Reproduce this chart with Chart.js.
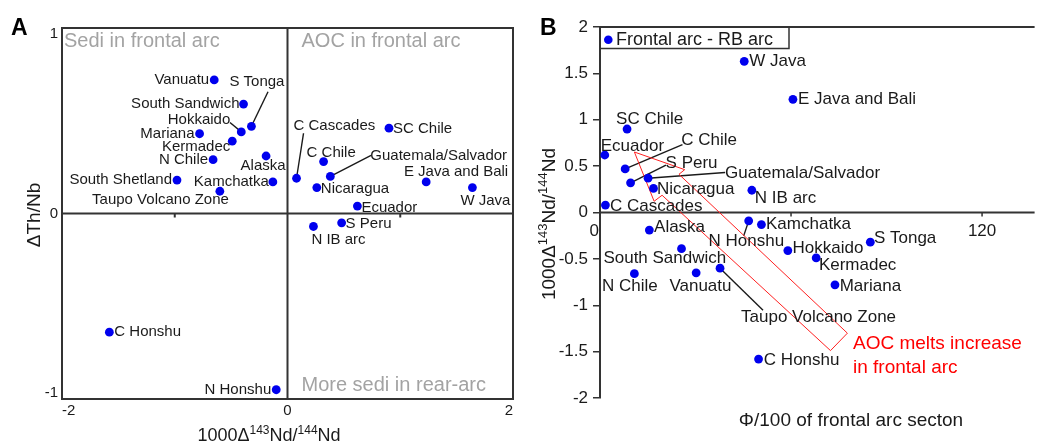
<!DOCTYPE html>
<html>
<head>
<meta charset="utf-8">
<script src="https://cdn.jsdelivr.net/npm/chart.js@4.4.0/dist/chart.umd.min.js"></script>
<style>
  body { margin: 0; background: #fff; width: 1039px; height: 443px; overflow: hidden; position: relative; }
  canvas { position: absolute; top: 0; }
  #chartA { left: 0; }
  #chartB { left: 520px; }
</style>
</head>
<body>
<canvas id="chartA" width="520" height="443"></canvas>
<canvas id="chartB" width="519" height="443"></canvas>
<script>
const FONT = '"Liberation Sans", Arial, sans-serif';
const BLUE = '#0000ee';
const INK = '#1a1a1a';
const FRAME = '#333';

// panel A : 1000*dNd vs dTh/Nb
const regionsA = ['Vanuatu', 'South Sandwich', 'S Tonga', 'Hokkaido', 'Mariana', 'Kermadec', 'N Chile',
  'Alaska', 'South Shetland', 'Kamchatka', 'Taupo Volcano Zone', 'C Cascades', 'SC Chile', 'C Chile',
  'Guatemala/Salvador', 'Nicaragua', 'E Java and Bali', 'W Java', 'Ecuador', 'S Peru', 'N IB arc',
  'C Honshu', 'N Honshu'];
const ndA = [-0.65, -0.39, -0.32, -0.41, -0.78, -0.49, -0.66, -0.19, -0.98, -0.13, -0.60, 0.08, 0.90, 0.32,
  0.38, 0.26, 1.23, 1.64, 0.62, 0.48, 0.23, -1.58, -0.10];
const thNbA = [0.72, 0.59, 0.47, 0.44, 0.43, 0.39, 0.29, 0.31, 0.18, 0.17, 0.12, 0.19, 0.46, 0.28,
  0.20, 0.14, 0.17, 0.14, 0.04, -0.05, -0.07, -0.64, -0.95];
const quadrantText = ['Sedi in frontal arc', 'AOC in frontal arc', 'More sedi in rear-arc'];

// panel B : phi/100 vs 1000*dNd
const regionsB = ['W Java', 'E Java and Bali', 'SC Chile', 'Ecuador', 'C Chile', 'S Peru', 'Guatemala/Salvador',
  'Nicaragua', 'N IB arc', 'C Cascades', 'N Honshu', 'Kamchatka', 'Alaska', 'Hokkaido', 'S Tonga', 'Kermadec',
  'South Sandwich', 'N Chile', 'Vanuatu', 'Taupo Volcano Zone', 'Mariana', 'C Honshu'];
const phiB = [45.3, 60.6, 8.5, 1.5, 7.9, 9.6, 15.1, 16.8, 47.7, 1.7, 46.7, 50.7, 15.5, 59.0, 84.9, 67.9,
  25.6, 10.8, 30.2, 37.7, 73.8, 49.8];
const ndB = [1.63, 1.22, 0.90, 0.62, 0.47, 0.32, 0.37, 0.26, 0.24, 0.08, -0.09, -0.13, -0.19, -0.41, -0.32, -0.49,
  -0.39, -0.66, -0.65, -0.60, -0.78, -1.58];
const phiTickLabels = [0, 120];
const phiTickMarks = [60, 120];

// red arrow outline, in panel B units
const arrowPhi = [10.8, 26.6, 24.8, 77.7, 72.4, 19.5, 17.0, 10.8];
const arrowNd = [0.652, 0.462, 0.412, -1.301, -1.489, 0.186, 0.121, 0.652];

// label placement: [align, dx, dy, leaderDx, leaderDy]
const labelsA = {
  'Vanuatu': ['r', -5, 0], 'South Sandwich': ['r', -4, 0], 'S Tonga': ['l', -22, -44, 16.6, -34.6],
  'Hokkaido': ['r', -11, -12, -11.3, -9.3], 'Mariana': ['r', -5, 0], 'Kermadec': ['r', -2, 6],
  'N Chile': ['r', -5, 0], 'Alaska': ['c', -3, 10], 'South Shetland': ['r', -5, 0], 'Kamchatka': ['r', -4, 0],
  'Taupo Volcano Zone': ['r', 9, 9], 'C Cascades': ['l', -3, -52, 7, -45], 'SC Chile': ['l', 4, 1],
  'C Chile': ['l', -17, -9], 'Guatemala/Salvador': ['l', 40, -21, 40.7, -21], 'Nicaragua': ['l', 4, 1.5],
  'E Java and Bali': ['r', 82, -10], 'W Java': ['l', -12, 13], 'Ecuador': ['l', 4, 2], 'S Peru': ['l', 4, 1],
  'N IB arc': ['l', -2, 13], 'C Honshu': ['l', 5, 0], 'N Honshu': ['r', -5, 0.5]
};
const labelsB = {
  'W Java': ['l', 5, 0], 'E Java and Bali': ['l', 5, 0], 'SC Chile': ['l', -11, -10], 'Ecuador': ['l', -4, -9],
  'C Chile': ['l', 56, -29, 57.3, -24.3], 'S Peru': ['l', 35, -20, 35.4, -17.7],
  'Guatemala/Salvador': ['l', 77, -4.7, 77, -5.7], 'Nicaragua': ['l', 3.5, 1], 'N IB arc': ['l', 3, 8],
  'C Cascades': ['l', 4.5, 1], 'N Honshu': ['c', -2.4, 20.7, -5, 15], 'Kamchatka': ['l', 4.6, 0],
  'Alaska': ['l', 4.7, -3], 'Hokkaido': ['l', 4.7, -2], 'S Tonga': ['l', 3.6, -4.3], 'Kermadec': ['l', 2.7, 7.3],
  'South Sandwich': ['c', -16.7, 9.6], 'N Chile': ['c', -4.5, 12.7], 'Vanuatu': ['c', 4.3, 13.3],
  'Taupo Volcano Zone': ['l', 21, 49.6, 43, 42], 'Mariana': ['l', 4.7, 1], 'C Honshu': ['l', 5.3, 1.7]
};

function drawLeaders(chart, names, layout) {
  const ctx = chart.ctx;
  const pts = chart.getDatasetMeta(0).data;
  ctx.save();
  ctx.strokeStyle = INK;
  ctx.lineWidth = 1.4;
  names.forEach((n, i) => {
    const L = layout[n];
    if (!pts[i] || !L || L[3] === undefined) return;
    ctx.beginPath();
    ctx.moveTo(pts[i].x, pts[i].y);
    ctx.lineTo(pts[i].x + L[3], pts[i].y + L[4]);
    ctx.stroke();
  });
  ctx.restore();
}

function drawLabels(chart, names, layout, size) {
  const ctx = chart.ctx;
  const pts = chart.getDatasetMeta(0).data;
  ctx.save();
  ctx.font = size + 'px ' + FONT;
  ctx.fillStyle = INK;
  ctx.textBaseline = 'middle';
  names.forEach((n, i) => {
    const L = layout[n];
    if (!pts[i] || !L) return;
    ctx.textAlign = L[0] === 'l' ? 'left' : (L[0] === 'r' ? 'right' : 'center');
    ctx.fillText(n, pts[i].x + L[1], pts[i].y + L[2]);
  });
  ctx.restore();
}

// "1000Δ143Nd/144Nd" with raised isotope numbers, centred at (x, y)
function drawNdTitle(ctx, x, y, size, rotate) {
  const parts = [['1000Δ', 0], ['143', 1], ['Nd/', 0], ['144', 1], ['Nd', 0]];
  const small = Math.round(size * 0.68);
  let w = 0;
  parts.forEach(p => { ctx.font = (p[1] ? small : size) + 'px ' + FONT; w += ctx.measureText(p[0]).width; });
  ctx.save();
  ctx.translate(x, y);
  if (rotate) ctx.rotate(-Math.PI / 2);
  ctx.fillStyle = INK;
  ctx.textBaseline = 'alphabetic';
  ctx.textAlign = 'left';
  let cx = -w / 2;
  parts.forEach(p => {
    ctx.font = (p[1] ? small : size) + 'px ' + FONT;
    ctx.fillText(p[0], cx, size * 0.35 - (p[1] ? size * 0.38 : 0));
    cx += ctx.measureText(p[0]).width;
  });
  ctx.restore();
}

const panelA = {
  id: 'panelA',
  beforeDatasetsDraw(chart) {
    const { ctx, chartArea: a, scales: { x, y } } = chart;
    ctx.save();
    ctx.strokeStyle = FRAME;
    ctx.lineWidth = 2;
    ctx.strokeRect(a.left, a.top, a.right - a.left, a.bottom - a.top);
    const x0 = x.getPixelForValue(0), y0 = y.getPixelForValue(0);
    ctx.beginPath();
    ctx.moveTo(a.left, y0); ctx.lineTo(a.right, y0);
    ctx.moveTo(x0, a.top); ctx.lineTo(x0, a.bottom);
    [-1, 1].forEach(v => { const px = x.getPixelForValue(v); ctx.moveTo(px, y0); ctx.lineTo(px, y0 + 4); });
    ctx.stroke();
    ctx.fillStyle = '#a3a3a3';
    ctx.font = '20px ' + FONT;
    ctx.textBaseline = 'middle';
    ctx.textAlign = 'left';
    ctx.fillText(quadrantText[0], a.left + 2, a.top + 13);
    ctx.fillText(quadrantText[1], x0 + 14, a.top + 13);
    ctx.fillText(quadrantText[2], x0 + 14, a.bottom - 14);
    // y tick labels sit just inside the frame ends
    ctx.fillStyle = INK;
    ctx.font = '15px ' + FONT;
    ctx.textAlign = 'right';
    [1, 0, -1].forEach(v => {
      const py = y.getPixelForValue(v) + (v === 1 ? 6 : (v === -1 ? -6 : 0));
      ctx.fillText(String(v), a.left - 4, py);
    });
    ctx.restore();
    drawLeaders(chart, regionsA, labelsA);
  },
  afterDatasetsDraw(chart) {
    drawLabels(chart, regionsA, labelsA, 15);
    const ctx = chart.ctx;
    ctx.save();
    ctx.fillStyle = '#000';
    ctx.font = 'bold 23px ' + FONT;
    ctx.textBaseline = 'alphabetic';
    ctx.fillText('A', 11, 35);
    ctx.restore();
    drawNdTitle(ctx, 269, 435, 18, false);
    ctx.save();
    ctx.translate(35, 215);
    ctx.rotate(-Math.PI / 2);
    ctx.font = '19px ' + FONT;
    ctx.fillStyle = INK;
    ctx.textAlign = 'center';
    ctx.textBaseline = 'middle';
    ctx.fillText('ΔTh/Nb', 0, 0);
    ctx.restore();
  }
};

const panelB = {
  id: 'panelB',
  beforeDatasetsDraw(chart) {
    const { ctx, chartArea: a, scales: { x, y } } = chart;
    const y0 = y.getPixelForValue(0), yTop = y.getPixelForValue(2);
    ctx.save();
    ctx.strokeStyle = FRAME;
    ctx.lineWidth = 2;
    ctx.beginPath();
    ctx.moveTo(a.left, yTop); ctx.lineTo(a.right, yTop);
    ctx.moveTo(a.left, y0); ctx.lineTo(a.right, y0);
    ctx.stroke();
    ctx.lineWidth = 1.5;
    ctx.beginPath();
    phiTickMarks.forEach(v => { const px = x.getPixelForValue(v); ctx.moveTo(px, y0); ctx.lineTo(px, y0 + 4); });
    ctx.stroke();
    ctx.fillStyle = INK;
    ctx.font = '17px ' + FONT;
    ctx.textBaseline = 'middle';
    phiTickLabels.forEach(v => {
      const px = x.getPixelForValue(v);
      ctx.textAlign = v === 0 ? 'right' : 'center';
      ctx.fillText(String(v), v === 0 ? px - 1 : px, y0 + 19);
    });
    // legend box
    ctx.lineWidth = 1.5;
    ctx.strokeRect(a.left, yTop, 189, 21.5);
    ctx.fillStyle = BLUE;
    ctx.beginPath();
    ctx.arc(a.left + 8.3, yTop + 12.7, 4.3, 0, Math.PI * 2);
    ctx.fill();
    ctx.fillStyle = INK;
    ctx.font = '18px ' + FONT;
    ctx.textAlign = 'left';
    ctx.fillText('Frontal arc - RB arc', a.left + 16, yTop + 12.7);
    ctx.restore();
    drawLeaders(chart, regionsB, labelsB);
  },
  afterDatasetsDraw(chart) {
    drawLabels(chart, regionsB, labelsB, 17);
    const ctx = chart.ctx;
    ctx.save();
    ctx.fillStyle = '#ff0000';
    ctx.font = '19px ' + FONT;
    ctx.textBaseline = 'middle';
    ctx.textAlign = 'left';
    ctx.fillText('AOC melts increase', 333, 344);
    ctx.fillText('in frontal arc', 333, 368);
    ctx.fillStyle = '#000';
    ctx.font = 'bold 23px ' + FONT;
    ctx.textBaseline = 'alphabetic';
    ctx.fillText('B', 20, 35);
    ctx.fillStyle = INK;
    ctx.font = '19px ' + FONT;
    ctx.textAlign = 'center';
    ctx.textBaseline = 'middle';
    ctx.fillText('Φ/100 of frontal arc secton', 331, 421);
    ctx.restore();
    drawNdTitle(ctx, 28, 224, 19, true);
  }
};

const tickFont = size => ({ size: size, family: FONT });

new Chart(document.getElementById('chartA'), {
  type: 'scatter',
  data: {
    datasets: [{
      data: regionsA.map((n, i) => ({ x: ndA[i], y: thNbA[i] })),
      backgroundColor: BLUE, borderWidth: 0, pointRadius: 4.4
    }]
  },
  options: {
    responsive: false, animation: false, events: [],
    layout: { padding: { top: 28, right: 7, left: 0, bottom: 0 } },
    plugins: { legend: { display: false }, tooltip: { enabled: false } },
    scales: {
      x: {
        min: -2, max: 2,
        ticks: { stepSize: 2, align: 'inner', font: tickFont(15), color: INK, padding: 3, maxRotation: 0 },
        grid: { display: false, drawTicks: false }, border: { display: false },
        afterFit: s => { s.height = 44; }
      },
      y: {
        min: -1, max: 1,
        ticks: { stepSize: 1, display: false },
        grid: { display: false, drawTicks: false }, border: { display: false },
        afterFit: s => { s.width = 62; }
      }
    }
  },
  plugins: [panelA]
});

new Chart(document.getElementById('chartB'), {
  type: 'scatter',
  data: {
    datasets: [{
      data: regionsB.map((n, i) => ({ x: phiB[i], y: ndB[i] })),
      backgroundColor: BLUE, borderWidth: 0, pointRadius: 4.4
    }, {
      data: arrowPhi.map((v, i) => ({ x: v, y: arrowNd[i] })),
      showLine: true, borderColor: '#ff2020', borderWidth: 1, pointRadius: 0, fill: false
    }]
  },
  options: {
    responsive: false, animation: false, events: [],
    layout: { padding: { top: 27, right: 0, left: 0, bottom: 45 } },
    plugins: { legend: { display: false }, tooltip: { enabled: false } },
    scales: {
      x: { min: 0, max: 136.5, display: false },
      y: {
        min: -2, max: 2,
        ticks: { stepSize: 0.5, font: tickFont(17), color: INK, padding: 5, callback: v => String(v) },
        grid: { drawOnChartArea: false, drawTicks: true, tickLength: 7, color: FRAME, lineWidth: 1.5 },
        border: { display: true, color: FRAME, width: 2 },
        afterFit: s => { s.width = 80; }
      }
    }
  },
  plugins: [panelB]
});
</script>
</body>
</html>
